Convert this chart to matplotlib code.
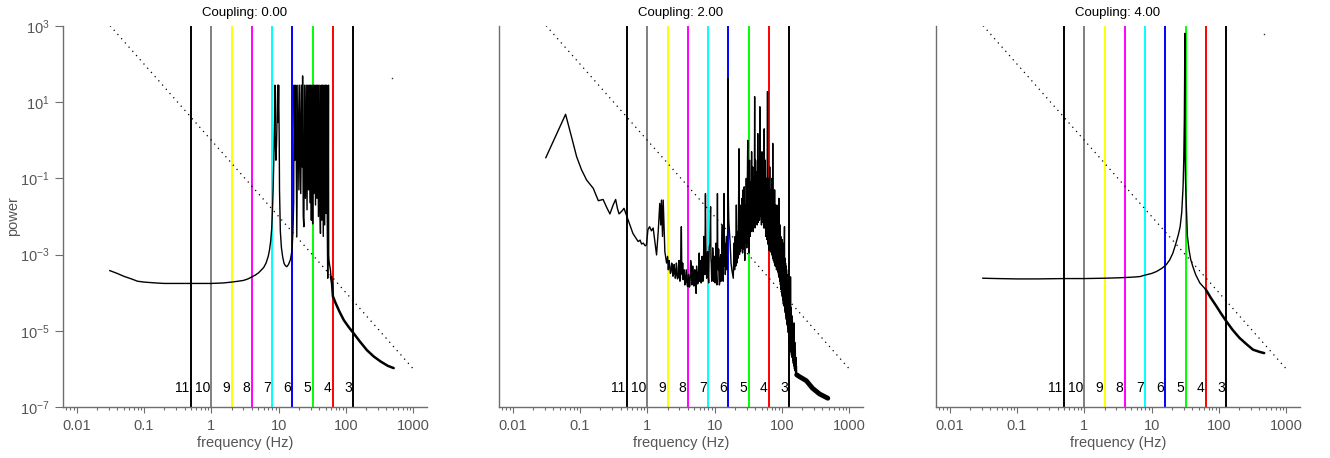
import matplotlib
matplotlib.use("Agg")
import matplotlib.pyplot as plt
from matplotlib.ticker import FixedLocator, LogLocator, NullFormatter

plt.rcParams['font.family'] = ['Liberation Sans', 'DejaVu Sans']
plt.rcParams['mathtext.default'] = 'regular'

# coupling strengths (one panel each)
couplings = [0.0, 2.0, 4.0]

# band marker lines
band_freqs = [0.5, 1, 2, 4, 8, 16, 32, 64, 128]
band_labels = ['11', '10', '9', '8', '7', '6', '5', '4', '3']
band_colors = ['black', 'grey', 'yellow', 'magenta', 'cyan', 'blue', 'lime', 'red', 'black']

# 1/f^2 reference
ref_f = [0.03125, 1000]
ref_p = [1024, 1e-6]

# coupling 0.00 spectrum, as (frequency, power) readings
c0_flat = [(0.031, 3.8e-4), (0.04, 3.2e-4), (0.05, 2.7e-4), (0.065, 2.3e-4), (0.08, 2.0e-4),
           (0.1, 1.9e-4), (0.15, 1.8e-4), (0.2, 1.75e-4), (0.3, 1.75e-4), (0.5, 1.75e-4),
           (0.7, 1.75e-4), (1.0, 1.75e-4), (1.5, 1.8e-4), (2.0, 1.9e-4), (2.5, 2.0e-4),
           (3.0, 2.1e-4), (3.5, 2.3e-4), (4.0, 2.6e-4), (4.5, 2.9e-4), (5.0, 3.3e-4),
           (5.5, 3.9e-4), (6.0, 4.6e-4), (6.5, 6.0e-4), (7.0, 9e-4), (7.3, 1.3e-3),
           (7.6, 2.2e-3), (7.9, 5e-3), (8.1, 0.015), (8.3, 0.06), (8.5, 0.4), (8.7, 5.0),
           (8.8, 28), (8.9, 1.0), (9.1, 0.3), (9.3, 0.8), (9.5, 5.0), (9.7, 28), (9.8, 3.0),
           (10.0, 28), (10.2, 1.0), (10.3, 0.05), (10.6, 4e-3), (11.0, 1.5e-3),
           (11.5, 8.5e-4), (12.0, 6e-4), (12.5, 5.2e-4), (13.2, 4.8e-4), (14.0, 5.5e-4),
           (15.0, 7.5e-4), (15.8, 1.3e-3), (16.3, 4e-3), (16.7, 0.023)]
c0_spikes = [(17.0, 28), (17.5, 0.3), (18.0, 28), (18.6, 3e-3), (19.3, 28), (20.0, 0.05),
             (20.6, 28), (21.3, 0.04), (22.0, 28), (22.4, 0.2), (22.7, 49), (23.2, 0.01),
             (23.7, 5.4e-3), (24.3, 28), (25.0, 0.03), (25.7, 28), (26.4, 0.015), (27.1, 28),
             (27.8, 0.05), (28.5, 28), (29.2, 0.023), (29.9, 28), (30.6, 0.008), (31.3, 28),
             (32.0, 6.4e-3), (32.8, 28), (33.6, 0.04), (34.4, 28), (35.3, 0.02), (36.2, 28),
             (37.1, 0.03), (38.0, 28), (39.0, 0.01), (40.0, 28), (41.0, 0.02),
             (41.8, 3.6e-3), (42.7, 28), (43.8, 0.008), (44.9, 28), (46.0, 3e-3),
             (47.1, 28), (48.3, 0.006), (49.5, 28), (50.7, 0.012), (51.8, 28), (52.8, 5e-3),
             (53.6, 2.4e-4), (54.4, 0.01), (55.0, 28), (55.4, 1e-3), (56.0, 7e-4),
             (57.0, 5.5e-4), (58.8, 4e-4), (60.0, 2.6e-4)]
f0 = [a for a, b in c0_flat + c0_spikes]
p0 = [b for a, b in c0_flat + c0_spikes]
f0_tail = [60.0, 62.0, 64.0, 70.0, 80.0, 93.0, 110.0, 130.0, 160.0, 205.0, 260.0, 330.0,
           420.0, 512.0]
p0_tail = [2.6e-4, 1.8e-4, 8e-5, 5.4e-5, 3.2e-5, 1.9e-5, 1.25e-5, 8.6e-6, 5.3e-6, 3.1e-6,
           2.1e-6, 1.55e-6, 1.2e-6, 1.05e-6]

# coupling 2.00 spectrum, as (frequency, power) readings
c2_low = [(0.031, 0.35), (0.061, 4.8), (0.075, 1.2), (0.089, 0.37), (0.105, 0.17),
          (0.125, 0.091), (0.157, 0.055), (0.187, 0.026), (0.22, 0.028), (0.25, 0.017),
          (0.278, 0.0117), (0.31, 0.02), (0.338, 0.028), (0.36, 0.016), (0.38, 0.0117),
          (0.42, 0.014), (0.45, 0.0164), (0.49, 0.0107), (0.55, 0.006), (0.61, 0.0036),
          (0.67, 0.0028), (0.73, 0.0022), (0.78, 0.0024), (0.82, 0.0019), (0.87, 0.002),
          (0.93, 0.0017), (0.97, 0.0018), (1.02, 0.0045), (1.08, 0.0054), (1.15, 0.0042),
          (1.22, 0.005), (1.3, 0.002), (1.37, 0.00098), (1.45, 0.004), (1.53, 0.022),
          (1.58, 0.006), (1.62, 0.027), (1.68, 0.003), (1.72, 0.027), (1.82, 0.0012)]
c2_mid = [(1.93, 6e-4), (2.0, 9e-4), (2.05, 4e-4), (2.1, 7e-4), (2.15, 5e-4), (2.2, 3.2e-4),
          (2.25, 3.5e-4), (2.3, 6e-4), (2.35, 5e-4), (2.4, 2.7e-4), (2.45, 3e-4),
          (2.5, 5.5e-4), (2.55, 4e-4), (2.6, 2.4e-4), (2.65, 2.8e-4), (2.7, 6e-4),
          (2.75, 4.5e-4), (2.8, 2.3e-4), (2.9, 2.6e-4), (2.95, 7e-4), (3.0, 4e-4),
          (3.05, 2e-4), (3.1, 2.4e-4), (3.15, 1.2e-3), (3.2, 5.4e-3), (3.25, 4e-4),
          (3.3, 3e-4), (3.35, 6e-4), (3.4, 2.2e-4), (3.5, 4e-4), (3.55, 3.5e-4),
          (3.6, 1.6e-4), (3.7, 1.8e-4), (3.78, 4e-4), (3.85, 2.5e-4), (3.92, 1.5e-4),
          (4.0, 1.45e-4), (4.08, 3e-4), (4.15, 2.2e-4), (4.22, 1.4e-4), (4.3, 1.6e-4),
          (4.4, 7e-4), (4.5, 4.8e-4), (4.58, 1.6e-4), (4.65, 1.8e-4), (4.72, 5e-4),
          (4.8, 3e-4), (4.9, 1.5e-4), (5.0, 1.7e-4), (5.08, 4e-4), (5.15, 2.5e-4),
          (5.22, 1.3e-4), (5.3, 9.6e-5), (5.4, 5e-4), (5.5, 3e-4), (5.6, 1.7e-4),
          (5.7, 2e-4), (5.8, 6e-4), (5.9, 1.1e-3), (5.98, 2e-4), (6.05, 2.5e-4),
          (6.12, 7e-4), (6.2, 5e-4), (6.3, 1.8e-4), (6.4, 2e-4), (6.5, 9e-4), (6.6, 6e-4),
          (6.7, 2e-4), (6.8, 2.5e-4), (6.9, 3e-3), (7.0, 1e-3), (7.15, 3e-4), (7.3, 0.04),
          (7.4, 2e-3), (7.5, 5e-4), (7.6, 2.4e-4), (7.7, 3e-4), (7.85, 1.2e-3),
          (8.0, 3.2e-4), (8.15, 1.8e-4), (8.3, 1.5e-3), (8.5, 2e-3), (8.7, 0.018),
          (8.8, 8e-4), (8.9, 6e-4), (9.05, 2e-4), (9.2, 2.5e-4), (9.35, 1.5e-3),
          (9.5, 8e-4), (9.6, 2e-4), (9.7, 3e-4), (9.85, 9e-4), (10.0, 2.2e-4),
          (10.15, 1.8e-4), (10.3, 7e-4), (10.45, 2e-3), (10.6, 3e-4), (10.8, 1.6e-4),
          (11.0, 0.04), (11.15, 5e-4), (11.3, 4e-4), (11.45, 1.4e-3), (11.6, 2.5e-4),
          (11.75, 1.6e-4), (11.9, 1.8e-4), (12.1, 8e-4), (12.3, 1e-3), (12.45, 2e-4),
          (12.6, 2.5e-4), (12.8, 2e-3), (13.0, 6e-3), (13.2, 3e-4), (13.4, 2e-4),
          (13.6, 1.5e-3), (13.8, 0.04), (14.0, 5e-4), (14.2, 2e-3), (14.4, 3e-4),
          (14.6, 6e-4), (14.8, 1.5e-3), (15.0, 3e-3), (15.2, 4e-4), (15.4, 1e-3),
          (15.55, 2.5e-3), (15.7, 0.02), (15.8, 42), (15.9, 0.05), (16.2, 0.008),
          (16.6, 4e-3), (17.0, 2e-3), (17.5, 6e-4), (18.0, 4e-4), (18.5, 3e-4),
          (18.9, 2.4e-4)]
c2_high = [(19.4, 2e-3), (19.8, 4e-4), (20.2, 3e-3), (20.6, 5e-4), (21.0, 0.02),
           (21.4, 6e-4), (21.8, 4e-3), (22.2, 8e-4), (22.6, 0.01), (23.0, 0.6),
           (23.4, 1e-3), (23.8, 0.01), (24.2, 1.2e-3), (24.6, 0.02), (25.0, 1.5e-3),
           (25.5, 0.03), (26.0, 1.1e-3), (26.5, 0.05), (27.0, 1.5e-3), (27.5, 0.06),
           (28.0, 7e-4), (28.5, 0.02), (29.0, 2e-3), (29.5, 0.1), (30.0, 1.5e-3),
           (30.5, 0.05), (31.0, 1.0), (31.5, 2e-3), (32.0, 0.15), (32.5, 1.1e-3),
           (33.0, 0.3), (33.6, 3e-3), (34.2, 0.08), (34.8, 4e-3), (35.4, 0.5), (36.0, 5e-3),
           (36.7, 0.2), (37.4, 4e-3), (38.1, 0.1), (38.8, 6e-3), (39.3, 14), (39.8, 5e-3),
           (40.5, 0.3), (41.3, 8e-3), (42.1, 0.15), (42.9, 6e-3), (43.7, 1.5), (44.5, 7e-3),
           (45.4, 0.3), (46.3, 8e-3), (47.0, 7.6), (47.8, 0.01), (48.7, 0.2), (49.6, 6e-3),
           (50.5, 0.5), (51.5, 7e-3), (52.5, 0.2), (53.5, 5e-3), (54.5, 2.0), (55.5, 5e-3),
           (56.6, 0.3), (57.3, 3e-3), (58.0, 0.05), (58.6, 3e-3), (59.2, 0.1),
           (59.8, 2.5e-3), (60.4, 0.04), (61.0, 19), (61.6, 2e-3), (62.2, 0.05),
           (62.8, 1.8e-3), (63.4, 0.1), (64.0, 1.3e-3), (64.6, 0.03), (65.2, 1.5e-3),
           (65.8, 0.2), (66.4, 1.4e-3), (67.0, 0.04), (67.6, 1.2e-3), (68.2, 0.05),
           (68.8, 1.3e-3), (69.4, 0.02), (70.0, 1.1e-3), (70.6, 0.1), (71.2, 1e-3),
           (71.8, 0.03), (72.4, 9e-4), (73.0, 0.83), (73.6, 8e-4), (74.2, 0.02),
           (74.8, 7e-4), (75.4, 0.03), (76.0, 7e-4), (76.6, 0.015), (77.2, 6e-4),
           (77.8, 0.05), (78.4, 5.5e-4), (79.0, 0.02), (79.6, 5e-4)]
c2_fall = [(80, 0.012), (81, 6e-4), (82, 0.006), (83, 4e-4), (84, 0.02), (85, 5e-4),
           (86, 0.008), (87, 3.5e-4), (88, 0.005), (89, 3e-4), (90, 0.03), (91, 2.5e-4),
           (92, 0.004), (93, 2e-4), (94, 0.006), (95, 1.6e-4), (96, 0.003), (97, 1.2e-4),
           (98, 0.002), (99, 1e-4), (100, 0.0025), (101, 8e-5), (102, 0.0015), (103, 6.5e-5),
           (104, 0.002), (105, 5e-5), (106, 0.001), (107, 4.5e-5), (108, 0.0012),
           (109, 0.0054), (110, 3.5e-5), (111, 8e-4), (112, 3e-5), (113, 6e-4), (114, 2.5e-5),
           (115, 5e-4), (116, 2e-5), (117, 4e-4), (118, 1.6e-5), (119, 3e-4), (120, 1.4e-5),
           (121, 2.5e-4), (122, 1.2e-5), (123, 1.8e-4), (124, 9e-6), (125, 1.5e-4),
           (126, 7e-6), (127, 1e-4), (128, 5e-6), (129, 8e-5), (130, 4e-6), (131.5, 6e-5),
           (133, 3.2e-6), (134, 2.6e-4), (135.5, 2.8e-6), (137, 4e-5), (138.5, 2.3e-6),
           (140, 2.5e-5), (141.5, 2e-6), (143, 1.8e-5), (144.5, 1.7e-6), (146, 1.3e-5),
           (147.5, 1.4e-6), (149, 1e-5), (150.5, 1.2e-6), (152, 1.6e-5), (153.5, 1e-6),
           (155, 5e-6), (156.5, 9e-7), (158, 3e-6), (159.5, 8e-7), (161, 2e-6),
           (162.5, 7.5e-7), (164, 1.2e-6), (165.5, 7e-7)]
f2 = [a for a, b in c2_low + c2_mid + c2_high + c2_fall]
p2 = [b for a, b in c2_low + c2_mid + c2_high + c2_fall]
f2_tail = [165.5, 181.0, 230.0, 285.0, 362.0, 480.0]
p2_tail = [7e-7, 6.3e-7, 4.9e-7, 3.1e-7, 2.2e-7, 1.7e-7]

# coupling 4.00 spectrum
f4 = [0.031, 0.05, 0.1, 0.2, 0.5, 1.0, 2.0, 3.0, 4.0, 5.0, 6.7, 8.0, 10.0, 11.8, 14.0,
      16.3, 18.5, 20.7, 23.0, 25.0, 26.5, 28.0, 29.3, 30.0, 30.6, 30.9, 31.1, 31.4, 31.8,
      32.3, 32.8, 34.0, 36.0, 38.0, 41.0, 45.0, 52.0, 58.0, 64.0]
p4 = [2.4e-4, 2.35e-4, 2.3e-4, 2.3e-4, 2.35e-4, 2.35e-4, 2.4e-4, 2.45e-4, 2.5e-4,
      2.55e-4, 2.65e-4, 2.9e-4, 3.2e-4, 3.6e-4, 4.3e-4, 5.3e-4, 7.2e-4, 1.1e-3, 2e-3,
      3.4e-3, 5.4e-3, 0.013, 0.06, 0.3, 3.4, 40, 640, 0.46, 0.1, 0.04, 0.018, 3e-3, 1.3e-3,
      7.5e-4, 4.8e-4, 3e-4, 1.8e-4, 1.45e-4, 1.2e-4]
f4_tail = [64.0, 75.0, 91.0, 108.0, 128.0, 160.0, 202.0, 255.0, 320.0, 400.0, 470.0]
p4_tail = [1.2e-4, 7.5e-5, 4.5e-5, 2.8e-5, 1.8e-5, 1.05e-5, 6.5e-6, 4.5e-6, 3.2e-6,
           2.8e-6, 2.6e-6]

# single stray points near the top right
dot_f = [490, None, 470]
dot_p = [44, None, 620]

spectra = [(f0, p0, f0_tail, p0_tail), (f2, p2, f2_tail, p2_tail), (f4, p4, f4_tail, p4_tail)]
tail_widths = [1.8, 3.5, 1.8]

axis_grey = '#6e6e6e'
text_grey = '#555555'

fig = plt.figure(figsize=(13.3, 4.58), dpi=100)
lefts = [63, 499, 936]

for i, c in enumerate(couplings):
    ax = fig.add_axes([lefts[i] / 1330, 51 / 458, 364 / 1330, 381 / 458])
    f, p, ft, pt = spectra[i]

    for bf, bc in zip(band_freqs, band_colors):
        ax.axvline(bf, color=bc, lw=1.4, zorder=1)
    for bf, bl in zip(band_freqs, band_labels):
        ax.annotate(bl, xy=(bf, 3.2e-7), xytext=(-1, 0), textcoords='offset points',
                    ha='right', va='center', fontsize=10, color='black')

    ax.plot(ref_f, ref_p, color='black', lw=0.9, linestyle=(0, (1, 3.5)), zorder=2)
    ax.plot(f, p, color='black', lw=1.0, zorder=3)
    ax.plot(ft, pt, color='black', lw=tail_widths[i], zorder=3, solid_capstyle='round')
    if dot_f[i] is not None:
        ax.plot([dot_f[i]], [dot_p[i]], 's', color='#333333', ms=1.0, mew=0, zorder=3)

    ax.set_xscale('log')
    ax.set_yscale('log')
    ax.set_xlim(0.00625, 1600)
    ax.set_ylim(1e-7, 1e3)

    for side in ['top', 'right']:
        ax.spines[side].set_visible(False)
    for side in ['left', 'bottom']:
        ax.spines[side].set_color(axis_grey)
        ax.spines[side].set_linewidth(1.0)

    ax.xaxis.set_major_locator(FixedLocator([0.01, 0.1, 1, 10, 100, 1000]))
    ax.set_xticklabels(['0.01', '0.1', '1', '10', '100', '1000'])
    ax.xaxis.set_minor_locator(LogLocator(base=10, subs=range(2, 10), numticks=20))
    ax.xaxis.set_minor_formatter(NullFormatter())
    ax.tick_params(axis='x', which='major', direction='out', length=4, width=0.8,
                   color=axis_grey, labelcolor=text_grey, labelsize=10.5, pad=5)
    ax.tick_params(axis='x', which='minor', direction='out', length=2.5, width=0.8,
                   color=axis_grey)
    ax.set_xlabel('frequency (Hz)', color=text_grey, fontsize=10.5, labelpad=1.5)

    if i == 0:
        ax.yaxis.set_major_locator(FixedLocator([1e-7, 1e-5, 1e-3, 1e-1, 1e1, 1e3]))
        ax.set_yticklabels(['$10^{-7}$', '$10^{-5}$', '$10^{-3}$', '$10^{-1}$',
                            '$10^{1}$', '$10^{3}$'])
        ax.yaxis.set_minor_locator(FixedLocator([]))
        ax.tick_params(axis='y', which='major', direction='out', length=5.5, width=0.8,
                       color=axis_grey, labelcolor=text_grey, labelsize=10.5, pad=4)
        ax.set_ylabel('power', color=text_grey, fontsize=10.5, labelpad=0)
    else:
        ax.yaxis.set_major_locator(FixedLocator([]))
        ax.yaxis.set_minor_locator(FixedLocator([]))

    ax.set_title(f'Coupling: {c:.2f}', fontsize=9.5, color='black', pad=7)

fig.savefig('out.png', dpi=100)
